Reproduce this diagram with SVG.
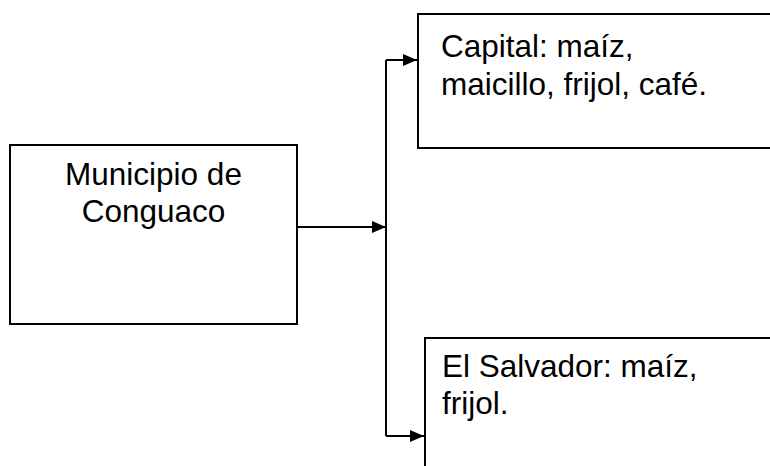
<svg xmlns="http://www.w3.org/2000/svg" width="770" height="466" viewBox="0 0 770 466">
<style>
.box{fill:#fff;stroke:#000;stroke-width:2}
.t{font-family:"Liberation Sans",Arial,sans-serif;font-size:31.5px;fill:#000}
.c{fill:none;stroke:#000;stroke-width:2}
</style>
<defs>
<marker id="ah" markerWidth="14" markerHeight="12" refX="14" refY="6" orient="auto" markerUnits="userSpaceOnUse" viewBox="0 0 14 12">
<path d="M0,0 L14,6 L0,12 z" fill="#000"/>
</marker>
</defs>
<rect width="770" height="466" fill="#fff"/>
<g id="municipio">
<rect class="box" x="10" y="145" width="287" height="179"/>
<text class="t" x="153.5" y="185" text-anchor="middle">Municipio de</text>
<text class="t" x="153.5" y="222" text-anchor="middle">Conguaco</text>
</g>
<g id="capital">
<rect class="box" x="418" y="14" width="360" height="134"/>
<text class="t" x="441" y="57">Capital: maíz,</text>
<text class="t" x="441" y="95">maicillo, frijol, café.</text>
</g>
<g id="salvador">
<rect class="box" x="425" y="338" width="360" height="140"/>
<text class="t" x="442" y="377">El Salvador: maíz,</text>
<text class="t" x="442" y="414">frijol.</text>
</g>
<g id="connectors">
<path class="c" d="M297,227 H386" marker-end="url(#ah)"/>
<path class="c" d="M386,60 V436"/>
<path class="c" d="M386,60 H417" marker-end="url(#ah)"/>
<path class="c" d="M386,436 H424" marker-end="url(#ah)"/>
</g>
</svg>
